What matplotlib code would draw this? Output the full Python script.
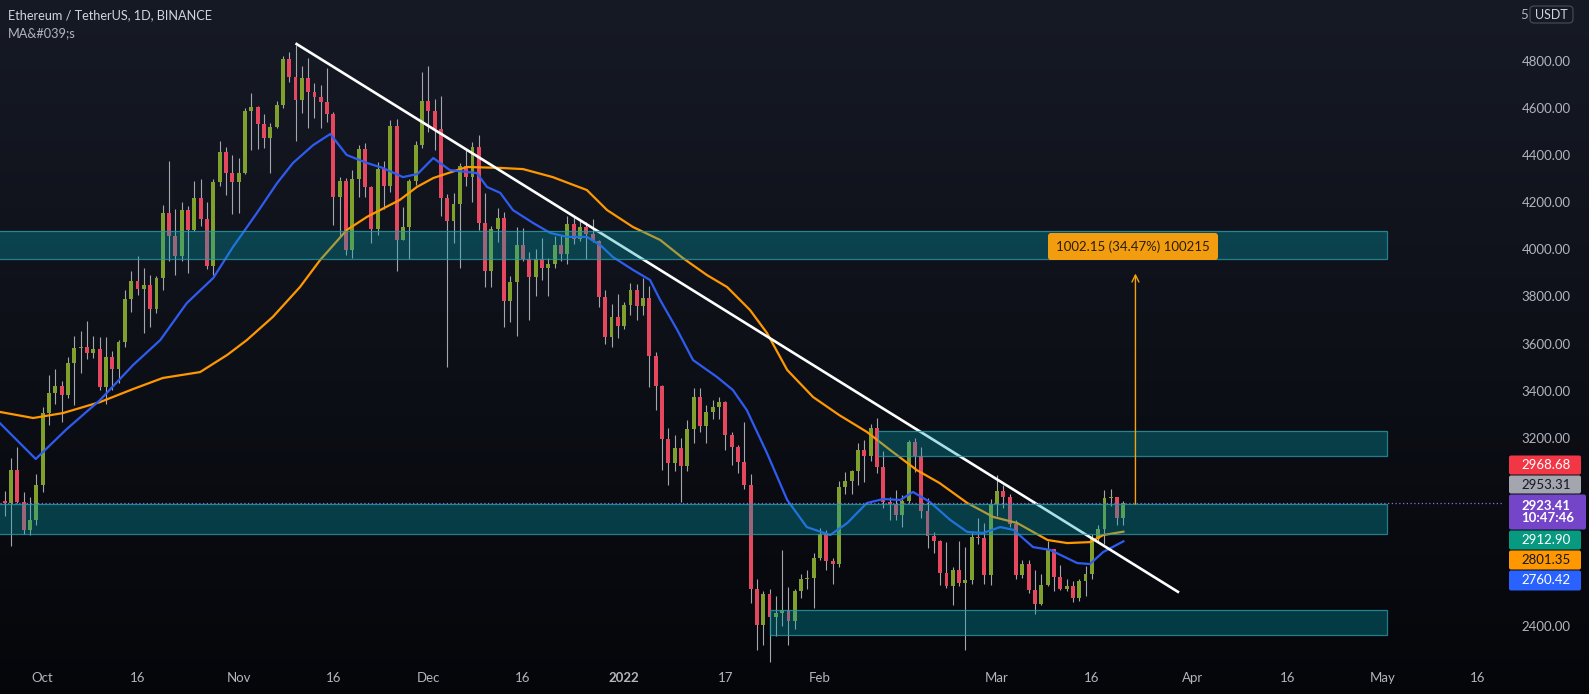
import matplotlib
matplotlib.use("Agg")
import matplotlib.pyplot as plt
from matplotlib.patches import Rectangle, FancyBboxPatch
import numpy as np
import pandas as pd

plt.rcParams['font.family'] = ['Lato', 'DejaVu Sans']

# daily candles ETH/USDT, 24 Sep 2021 .. 21 Mar 2022
dates = pd.date_range("2021-09-24", "2022-03-21", freq="D")

opens = [3153, 2930, 2925, 3062, 2929, 2807, 2850,
         3000, 3307, 3391, 3418, 3380, 3518, 3580, 3587, 3560, 3577, 3415, 3545, 3492, 3605, 3788, 3865,
         3830, 3847, 3747, 3877, 4155, 4057, 3972, 4169, 4083, 4218, 4131, 3929, 4287, 4413, 4325,
         4288, 4325, 4588, 4603, 4532, 4474, 4518, 4612, 4807, 4731, 4636, 4727, 4667, 4648, 4625,
         4575, 4223, 4291, 3997, 4298, 4428, 4265, 4088, 4341, 4270, 4524, 4041, 4096, 4292, 4445,
         4632, 4586, 4511, 4220, 4119, 4193, 4356, 4308, 4433, 4112, 3908, 4085, 4134, 3783, 3860,
         4017, 3959, 3883, 3959, 3922, 3940, 4020, 3979, 4109, 4045, 4094, 4065, 4037, 3797, 3628, 3711,
         3676, 3765, 3829, 3761, 3794, 3548, 3418, 3193, 3091, 3157, 3082, 3238, 3372, 3249, 3309,
         3330, 3350, 3212, 3163, 3096, 3001, 2558, 2406, 2537, 2441, 2457, 2467, 2420, 2548, 2600, 2605,
         2688, 2790, 2676, 2665, 2990, 3016, 3058, 3148, 3123, 3240, 3078, 2927, 2917, 2871,
         2930, 3183, 3123, 2888, 2783, 2762, 2626, 2571, 2640, 2582, 2596, 2778, 2775, 2618,
         2920, 2972, 2950, 2835, 2618, 2663, 2555, 2496, 2574, 2727, 2608, 2558, 2569, 2518,
         2591, 2620, 2772, 2814, 2944, 2947, 2861]
highs = [3160, 2975, 3116, 3160, 2970, 2948, 3046,
         3330, 3467, 3492, 3441, 3543, 3632, 3653, 3696, 3632, 3628, 3628, 3570, 3615, 3828, 3908,
         3972, 3921, 3891, 3887, 4188, 4375, 4173, 4200, 4185, 4292, 4300, 4200, 4300, 4460, 4435, 4400,
         4388, 4600, 4664, 4607, 4575, 4537, 4630, 4821, 4838, 4868, 4779, 4813, 4707, 4700, 4770,
         4585, 4307, 4303, 4337, 4444, 4450, 4270, 4370, 4376, 4550, 4552, 4180, 4300, 4460, 4753,
         4779, 4640, 4650, 4235, 4240, 4365, 4425, 4455, 4486, 4239, 4100, 4175, 4160, 3885, 4095,
         4090, 3990, 4000, 4050, 3964, 4055, 4060, 4140, 4140, 4130, 4115, 4127, 4040, 3828, 3767, 3812,
         3775, 3858, 3855, 3878, 3845, 3566, 3425, 3240, 3210, 3200, 3275, 3413, 3410, 3340, 3360,
         3375, 3357, 3225, 3170, 3267, 3047, 2602, 2550, 2560, 2530, 2723, 2566, 2560, 2620, 2640, 2711,
         2818, 2810, 2690, 3015, 3055, 3065, 3180, 3191, 3260, 3284, 3145, 2950, 2980, 2955,
         3190, 3200, 3160, 2945, 2800, 2765, 2758, 2650, 2760, 2736, 2800, 2860, 2840, 2940,
         3040, 3000, 2960, 2850, 2680, 2680, 2640, 2620, 2760, 2728, 2660, 2600, 2590, 2600,
         2655, 2790, 2830, 2978, 2983, 2950, 2930]
lows = [2740, 2868, 2740, 2925, 2790, 2787, 2830,
        2970, 3254, 3343, 3267, 3369, 3339, 3475, 3535, 3540, 3403, 3343, 3403, 3433, 3586, 3734,
        3806, 3645, 3671, 3730, 3828, 3950, 3890, 3950, 3900, 4080, 4100, 3915, 3890, 4270, 4231, 4150,
        4155, 4320, 4422, 4425, 4430, 4324, 4515, 4600, 4710, 4460, 4579, 4516, 4560, 4515, 4541,
        4104, 4053, 3976, 3963, 4222, 4222, 4027, 4060, 4172, 4245, 3908, 4040, 3960, 4275, 4430,
        4500, 4420, 4140, 3500, 4027, 3920, 4270, 4200, 4082, 3840, 3840, 4030, 3671, 3691, 3632,
        3950, 3700, 3800, 3870, 3800, 3920, 3950, 3940, 4025, 4035, 3960, 4030, 3755, 3600, 3585, 3622,
        3660, 3722, 3700, 3720, 3416, 3320, 3063, 3000, 3058, 2928, 3057, 3180, 3225, 3180, 3280,
        3280, 3150, 3085, 3050, 2983, 2500, 2300, 2320, 2250, 2360, 2400, 2320, 2390, 2520, 2560, 2477,
        2680, 2640, 2580, 2650, 2960, 2960, 3000, 3012, 3100, 3050, 2900, 2850, 2850, 2820,
        2925, 3055, 2860, 2730, 2710, 2575, 2562, 2490, 2570, 2300, 2580, 2750, 2580, 2575,
        2870, 2900, 2820, 2600, 2605, 2540, 2450, 2490, 2570, 2550, 2555, 2550, 2503, 2505,
        2530, 2600, 2760, 2750, 2910, 2830, 2830]
closes = [2930, 2925, 3062, 2929, 2807, 2850, 3000,
          3307, 3391, 3418, 3380, 3518, 3580, 3587, 3560, 3577, 3415, 3545, 3492, 3605, 3788, 3865,
          3830, 3847, 3747, 3877, 4155, 4057, 3972, 4169, 4083, 4218, 4131, 3929, 4287, 4413, 4325, 4288,
          4325, 4588, 4603, 4532, 4474, 4518, 4612, 4807, 4731, 4636, 4727, 4667, 4648, 4625, 4575,
          4223, 4291, 3997, 4298, 4428, 4265, 4088, 4341, 4270, 4524, 4041, 4096, 4292, 4445, 4632,
          4586, 4511, 4220, 4119, 4193, 4356, 4308, 4433, 4112, 3908, 4085, 4134, 3783, 3860, 4017,
          3959, 3883, 3959, 3922, 3940, 4020, 3979, 4109, 4045, 4094, 4065, 4037, 3797, 3628, 3711, 3676,
          3765, 3829, 3761, 3794, 3548, 3418, 3193, 3091, 3157, 3082, 3238, 3372, 3249, 3309, 3330,
          3350, 3212, 3163, 3096, 3001, 2558, 2406, 2537, 2441, 2457, 2467, 2420, 2548, 2600, 2605, 2688,
          2790, 2676, 2665, 2990, 3016, 3058, 3148, 3123, 3240, 3078, 2927, 2917, 2871, 2930,
          3183, 3123, 2888, 2783, 2762, 2626, 2571, 2640, 2582, 2596, 2778, 2775, 2618, 2920,
          2972, 2950, 2835, 2618, 2663, 2555, 2496, 2574, 2727, 2608, 2558, 2569, 2518, 2591,
          2620, 2772, 2814, 2944, 2947, 2861, 2923.41]

# moving averages (day index from 24 Sep, price)
ma_fast_day = [0.2, 5.9, 10.8, 16.1, 21.3, 25.6, 29.8, 34.0, 37.1, 40.9, 44.1, 46.6, 49.8, 52.5,
               55.1, 58.3, 60.8, 64.0, 66.3, 68.8, 71.4, 75.7, 77.3, 79.4, 81.4, 84.6, 87.3, 90.0,
               93.1, 95.2, 97.2, 100.4, 103.1, 104.7, 107.4, 109.9, 113.7, 116.2, 118.4, 121.6,
               124.8, 127.9, 131.6, 134.3, 137.4, 140.0, 142.7, 144.7, 147.4, 150.6, 153.3, 155.8,
               158.5, 160.6, 163.7, 166.4, 170.7, 172.7, 174.8, 178.0]
ma_fast_val = [3263, 3110, 3237, 3361, 3509, 3615, 3772, 3879, 4010, 4155, 4282, 4367, 4443, 4490,
               4401, 4367, 4346, 4307, 4320, 4388, 4337, 4324, 4265, 4240, 4167, 4112, 4070, 4053,
               4053, 4019, 3968, 3913, 3870, 3785, 3658, 3530, 3458, 3403, 3318, 3135,
               2936, 2821, 2787, 2838, 2923, 2940, 2936, 2970, 2927, 2851, 2800, 2796,
               2821, 2809, 2736, 2724, 2668, 2664, 2715, 2760.42]
ma_slow_day = [0.2, 5.5, 10.2, 16.1, 21.3, 26.0, 31.9, 36.2, 39.3, 43.4, 47.7, 50.9, 55.1, 58.3,
               63.5, 66.2, 68.8, 74.1, 79.4, 83.0, 87.7, 93.1, 96.3, 100.4, 104.7, 108.3, 112.1,
               115.3, 118.9, 121.6, 124.8, 128.9, 133.0, 137.4, 141.1, 145.3, 148.9, 153.3, 157.4,
               161.2, 166.0, 169.1, 172.7, 174.8, 178.0]
ma_slow_val = [3310, 3284, 3305, 3352, 3407, 3454, 3479, 3552, 3615, 3713, 3840, 3955, 4082, 4138,
               4210, 4265, 4303, 4350, 4346, 4341, 4307, 4252, 4167, 4095, 4040, 3963, 3891,
               3840, 3743, 3645, 3488, 3373, 3297, 3225, 3148, 3063, 3008, 2923, 2864,
               2838, 2766, 2753, 2757, 2787, 2801.35]

# support / resistance zones
zone_start = [-10, -10, 139.2, 122.1]
zone_low = [3960, 2792, 3123, 2363]
zone_high = [4078, 2918, 3229, 2469]
zone_end = 219.7

trend_day = [47.0, 186.8]
trend_price = [4875, 2543]

measure_day = 179.9
measure_from = 2907.26
measure_to = 3909.41
measure_text = "1002.15 (34.47%) 100215"

last_price = 2923.41
price_ticks = [2400, 3200, 3400, 3600, 3800, 4000, 4200, 4400, 4600, 4800]
tick_dates = ["2021-10-01", "2021-10-16", "2021-11-01", "2021-11-16", "2021-12-01",
              "2021-12-16", "2022-01-01", "2022-01-17", "2022-02-01", "2022-03-01",
              "2022-03-16", "2022-04-01", "2022-04-16", "2022-05-01", "2022-05-16"]
tick_labels = ["Oct", "16", "Nov", "16", "Dec", "16", "2022", "17", "Feb", "Mar",
               "16", "Apr", "16", "May", "16"]

tag_text = ["2968.68", "2953.31", "2923.41\n10:47:46", "2912.90", "2801.35", "2760.42"]
tag_color = ["#f23645", "#a3a6af", "#7445c8", "#089981", "#ff9800", "#2962ff"]
tag_font = ["white", "#131722", "white", "white", "#131722", "white"]
tag_top = [455, 475, 494, 530, 550, 570]
tag_bot = [475, 494, 530, 550, 570, 591]

W, H = 1589, 694
fig = plt.figure(figsize=(W / 100, H / 100), dpi=100)

# background gradient
bg = fig.add_axes([0, 0, 1, 1], zorder=-10)
grad = np.linspace(0, 1, 256)[:, None]
top_c = np.array([22, 26, 37]) / 255
bot_c = np.array([5, 6, 10]) / 255
img = top_c[None, None, :] * (1 - grad[:, :, None]) + bot_c[None, None, :] * grad[:, :, None]
bg.imshow(img, aspect='auto', extent=[0, 1, 0, 1])
bg.axis('off')

ax = fig.add_axes([0, 28 / H, 1502 / W, 666 / H], zorder=1)
ax.patch.set_alpha(0)
x = np.arange(len(dates))
o = np.array(opens, float)
c = np.array(closes, float)
up = c >= o
col = np.where(up, "#7fa02c", "#e5475f")

ax.vlines(x, lows, highs, color="#a3a6ad", lw=0.8, zorder=2)
body_h = np.maximum(np.abs(c - o), 5)
ax.bar(x, body_h, bottom=np.minimum(o, c), width=0.62, color=col, zorder=3, linewidth=0)

ax.plot(ma_slow_day, ma_slow_val, color="#ff9800", lw=1.6, zorder=4)
ax.plot(ma_fast_day, ma_fast_val, color="#2f5cf0", lw=1.6, zorder=4)
ax.plot(trend_day, trend_price, color="white", lw=1.9, zorder=4, solid_capstyle='butt')

for s, lo, hi in zip(zone_start, zone_low, zone_high):
    ax.add_patch(Rectangle((s, lo), zone_end - s, hi - lo, facecolor="#00a3b5", alpha=0.33,
                           edgecolor="none", zorder=5))
    ax.add_patch(Rectangle((s, lo), zone_end - s, hi - lo, facecolor="none",
                           edgecolor="#2a9aa6", lw=0.9, alpha=0.8, zorder=5))

ax.axhline(last_price, color="#8e6bd6", lw=0.9, ls=(0, (1, 2)), zorder=4)

ax.annotate("", xy=(measure_day, measure_to), xytext=(measure_day, measure_from),
            arrowprops=dict(arrowstyle="->,head_length=0.5,head_width=0.25",
                            color="#f5a00f", lw=1.0), zorder=6)

ax.set_xlim(0.2437, 237.9)
ax.set_ylim(2231.0, 5059.0)
for sp in ax.spines.values():
    sp.set_visible(False)

tick_pos = [(pd.Timestamp(d) - dates[0]).days for d in tick_dates]
ax.set_xticks(tick_pos)
ax.set_xticklabels(tick_labels)
for lab in ax.get_xticklabels():
    if lab.get_text() == "2022":
        lab.set_fontweight("bold")
ax.tick_params(axis='x', length=0, pad=4, labelcolor="#b2b5be", labelsize=9.5)
ax.yaxis.tick_right()
ax.set_yticks(price_ticks)
ax.set_yticklabels([f"{v:.2f}" for v in price_ticks])
ax.tick_params(axis='y', length=0, pad=14, labelcolor="#b2b5be", labelsize=9.5)

# overlay in pixel coordinates for labels and tags
ov = fig.add_axes([0, 0, 1, 1], zorder=10)
ov.set_xlim(0, W)
ov.set_ylim(H, 0)
ov.axis('off')
ov.patch.set_alpha(0)

ov.text(8, 15, "Ethereum / TetherUS, 1D, BINANCE", color="#d1d4dc", fontsize=9.2, va="center")
ov.text(8, 33, "MA&#039;s", color="#b2b5be", fontsize=9.2, va="center")

ov.add_patch(FancyBboxPatch((1048, 233), 170, 27, boxstyle="round,pad=0,rounding_size=3",
                            facecolor="#f29d0f", edgecolor="none"))
ov.text(1133, 246.5, measure_text, color="#2b1e05", fontsize=9.5, ha="center", va="center")

for t, fc, tc, y0, y1 in zip(tag_text, tag_color, tag_font, tag_top, tag_bot):
    wdt = 77 if "\n" in t else 72
    ov.add_patch(FancyBboxPatch((1509, y0 + 0.5), wdt, y1 - y0 - 1,
                                boxstyle="round,pad=0,rounding_size=2", facecolor=fc, edgecolor="none"))
    ov.text(1521, (y0 + y1) / 2, t, color=tc, fontsize=9.5, va="center", ha="left",
            fontweight="bold" if "\n" in t else "normal", linespacing=1.1)

# top of the price scale: the 5000 label is hidden behind the currency button, only "5" shows
ov.text(1520, 14.5, "5", color="#b2b5be", fontsize=9.5, ha="left", va="center")
ov.add_patch(FancyBboxPatch((1530, 6), 43, 17, boxstyle="round,pad=0,rounding_size=4",
                            facecolor="#151924", edgecolor="#4a4e5a", lw=0.8))
ov.text(1551.5, 14.5, "USDT", color="#d1d4dc", fontsize=9, ha="center", va="center")

fig.savefig("out.png", dpi=100)
